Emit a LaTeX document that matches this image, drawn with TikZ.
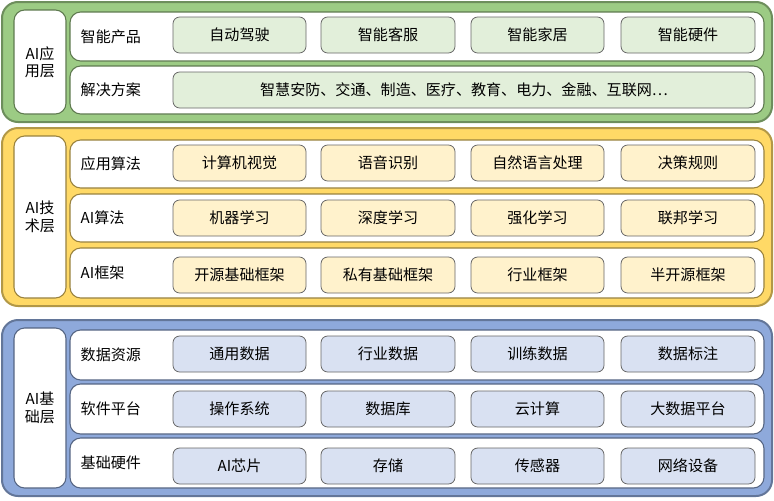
\documentclass[tikz,border=0pt]{standalone}
\usepackage{fontspec}
\setmainfont{Noto Sans CJK SC}
\begin{document}
\begin{tikzpicture}[x=0.75pt,y=-0.75pt,font=\fontsize{11.3}{13}\selectfont,
 outer/.style={draw=#1!70!black,line width=1.5pt,rounded corners=12pt},
 lay/.style={draw=#1!60!black,fill=white,line width=0.8pt,rounded corners=8pt},
 item/.style={draw=gray!80!black,line width=0.6pt,rounded corners=5pt,fill=#1}]
\definecolor{gO}{HTML}{9CCB84}\definecolor{gI}{HTML}{E2EFDA}
\definecolor{yO}{HTML}{FFD966}\definecolor{yI}{HTML}{FFF2CC}
\definecolor{bO}{HTML}{8EA9DB}\definecolor{bI}{HTML}{D9E1F2}
\useasboundingbox (0,0) rectangle (774,500);
\newcommand\rowbox[5]{%
 \draw[lay=#5] (70,#2) rectangle (764,#3);
 \node[anchor=west] (#1) at (76,{(#2+#3)/2}) {#4};}
\newcommand\itm[6]{%
 \draw[item=\ic] (#2,#4) rectangle (#3,#5);
 \node (#1) at ({(#2+#3)/2},{(#4+#5)/2}) {#6};}
% green
\draw[outer=gO,fill=gO] (2,2) rectangle (772,122);
\draw[lay=gO] (14,10) rectangle (66,114);
\node[align=center] (L1) at (40,62) {AI应\\用层};
\def\ic{gI}
\rowbox{r11}{12}{61}{智能产品}{gO}
\rowbox{r12}{66}{114}{解决方案}{gO}
\itm{a1}{173}{306}{17}{53}{自动驾驶}
\itm{a2}{321}{455}{17}{53}{智能客服}
\itm{a3}{471}{604}{17}{53}{智能家居}
\itm{a4}{621}{755}{17}{53}{智能硬件}
\itm{a5}{173}{755}{72}{108}{智慧安防、交通、制造、医疗、教育、电力、金融、互联网…}
% yellow
\draw[outer=yO,fill=yO] (2,128) rectangle (772,306);
\draw[lay=yO] (14,136) rectangle (66,298);
\node[align=center] (L2) at (40,217) {AI技\\术层};
\def\ic{yI}
\rowbox{r21}{140}{188}{应用算法}{yO}
\rowbox{r22}{194}{242}{AI算法}{yO}
\rowbox{r23}{248}{298}{AI框架}{yO}
\itm{b1}{173}{306}{145}{181}{计算机视觉}
\itm{b2}{321}{455}{145}{181}{语音识别}
\itm{b3}{471}{604}{145}{181}{自然语言处理}
\itm{b4}{621}{755}{145}{181}{决策规则}
\itm{b5}{173}{306}{200}{236}{机器学习}
\itm{b6}{321}{455}{200}{236}{深度学习}
\itm{b7}{471}{604}{200}{236}{强化学习}
\itm{b8}{621}{755}{200}{236}{联邦学习}
\itm{b9}{173}{306}{257}{293}{开源基础框架}
\itm{b10}{321}{455}{257}{293}{私有基础框架}
\itm{b11}{471}{604}{257}{293}{行业框架}
\itm{b12}{621}{755}{257}{293}{半开源框架}
% blue
\draw[outer=bO,fill=bO] (2,320) rectangle (772,496);
\draw[lay=bO] (14,328) rectangle (66,488);
\node[align=center] (L3) at (40,408) {AI基\\础层};
\def\ic{bI}
\rowbox{r31}{330}{380}{数据资源}{bO}
\rowbox{r32}{384}{434}{软件平台}{bO}
\rowbox{r33}{438}{488}{基础硬件}{bO}
\itm{c1}{173}{306}{336}{372}{通用数据}
\itm{c2}{321}{455}{336}{372}{行业数据}
\itm{c3}{471}{604}{336}{372}{训练数据}
\itm{c4}{621}{755}{336}{372}{数据标注}
\itm{c5}{173}{306}{391}{427}{操作系统}
\itm{c6}{321}{455}{391}{427}{数据库}
\itm{c7}{471}{604}{391}{427}{云计算}
\itm{c8}{621}{755}{391}{427}{大数据平台}
\itm{c9}{173}{306}{448}{484}{AI芯片}
\itm{c10}{321}{455}{448}{484}{存储}
\itm{c11}{471}{604}{448}{484}{传感器}
\itm{c12}{621}{755}{448}{484}{网络设备}
\end{tikzpicture}
\end{document}
